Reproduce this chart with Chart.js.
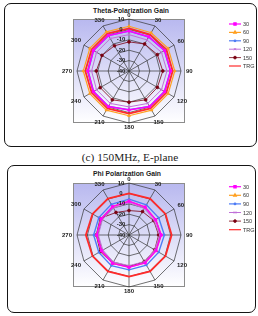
<!DOCTYPE html>
<html>
<head>
<meta charset="utf-8">
<script src="https://cdn.jsdelivr.net/npm/chart.js@4.4.1/dist/chart.umd.min.js"></script>
<style>
  body { margin: 0; width: 258px; height: 316px; position: relative; background: #fff; overflow: hidden;
         font-family: "Liberation Sans", Arial, sans-serif; }
  .box { position: absolute; box-sizing: border-box; border: 1.4px solid #151515; border-radius: 7px; }
  .ttl { position: absolute; font-weight: bold; font-size: 6.8px; color: #222; white-space: nowrap; transform: translate(-50%, -50%); }
  .cap { position: absolute; left: 130px; top: 157px; transform: translate(-50%, -50%); white-space: nowrap;
         font-family: "Liberation Serif", "DejaVu Serif", serif; font-size: 11.3px; color: #222; }
  canvas { position: absolute; left: 0; }
  .leg { position: absolute; font-size: 5.5px; color: #333; transform: translateY(-50%); white-space: nowrap; }
</style>
</head>
<body>
<div class="box" style="left:4px;top:3px;width:253px;height:144px"></div>
<div class="box" style="left:7px;top:165px;width:249px;height:148px"></div>
<div class="ttl" style="left:131px;top:10px">Theta-Polarization Gain</div>
<div class="ttl" style="left:127px;top:173px">Phi Polarization Gain</div>
<div class="cap">(c) 150MHz, E-plane</div>
<canvas id="theta" width="258" height="150" style="top:0"></canvas>
<canvas id="phi" width="258" height="150" style="top:166px"></canvas>
<div id="legends"></div>

<script>
// ângulos (graus) e escala radial
const angulos = ["0", "30", "60", "90", "120", "150", "180", "210", "240", "270", "300", "330"];
const ticksRadial = [10, 0, -10, -20, -30, -40];
const series = ["30", "60", "90", "120", "150", "TRG"];

// Theta-Polarization Gain
const theta30  = [-1.5, -2, -0.5, 0, -0.5, -0.5, -2.5, -0.5, -0.5, -0.5, -0.5, -0.5];
const theta60  = [3, 2.5, 3.5, 4, 3.5, 3.5, 3, 3.5, 3.5, 4, 3.5, 3.5];
const theta90  = [-1.7, -2.2, -0.7, -0.2, -0.7, -0.7, -2.7, -0.7, -0.7, -0.7, -0.7, -0.7];
const theta120 = [-5, -5.5, -4, -3.5, -4, -4, -5.5, -4, -4, -4, -4, -4];
const theta150 = [-12, -10, -8.5, -7.5, -8.5, -8, -10, -8, -8, -8.5, -10, -12];
const thetaTRG = [1, 0.5, 1.5, 2, 1.5, 1.5, 1, 1.5, 1.5, 2, 1.5, 1.5];

// Phi Polarization Gain
const phi30  = [-7.5, -9, -10.5, -9, -10, -9, -9, -8.5, -9.5, -9, -9, -8.5];
const phi60  = [-7.5, -9, -10.5, -9, -10, -9, -9, -8.5, -9.5, -9, -9, -8.5];
const phi90  = [-5.5, -6.5, -7, -6, -7, -6.5, -6.5, -6, -6.5, -6, -6.5, -6];
const phi120 = [-9, -10.5, -12, -10.5, -11.5, -10.5, -10.5, -10, -11, -10.5, -10.5, -10];
const phi150 = [-16.5, -14, -12.5, -11.5, -11.5, -10.5, -9.5, -8.5, -8, -8.5, -8, -15];
const phiTRG = [0, 0.5, 0.5, 1, 0.5, 0.5, 0, 0.5, 0.5, 1.5, 0.5, 0.5];

const estilos = [
  { cor: "#ff00ff", largura: 1.5, ponto: "rect", raio: 1.6 },
  { cor: "#ffa020", largura: 1.2, ponto: "triangle", raio: 1.5 },
  { cor: "#4d7cf5", largura: 1.4, ponto: "circle", raio: 0.8 },
  { cor: "#c070d8", largura: 1, ponto: "crossRot", raio: 1.5 },
  { cor: "#7a0010", largura: 0.8, ponto: "circle", raio: 1.4 },
  { cor: "#ff2a2a", largura: 1.8, ponto: false, raio: 0 }
];

function montarDatasets(dados) {
  return dados.map((d, i) => ({
    label: series[i],
    data: d,
    borderColor: estilos[i].cor,
    backgroundColor: estilos[i].cor,
    borderWidth: estilos[i].largura,
    pointStyle: estilos[i].ponto,
    pointRadius: estilos[i].raio,
    pointBorderWidth: 0.8,
    fill: false
  }));
}

// fundo do quadro, rótulos e legenda
const decoracao = {
  id: "decoracao",
  beforeDraw(chart) {
    const { ctx, chartArea: a } = chart;
    const g = ctx.createLinearGradient(0, a.top, 0, a.bottom);
    g.addColorStop(0, "#b8b8ef");
    g.addColorStop(1, "#ffffff");
    ctx.save();
    ctx.fillStyle = g;
    ctx.fillRect(a.left, a.top, a.right - a.left, a.bottom - a.top);
    ctx.strokeStyle = "#8c8c8c";
    ctx.lineWidth = 1;
    ctx.strokeRect(a.left + 0.5, a.top + 0.5, a.right - a.left - 1, a.bottom - a.top - 1);
    ctx.restore();
  },
  afterDatasetsDraw(chart, args, opts) {
    const { ctx } = chart;
    const r = chart.scales.r;
    ctx.save();
    ctx.fillStyle = "#222";
    ctx.font = 'bold 6px "Liberation Sans", Arial, sans-serif';
    ctx.textAlign = "center";
    ctx.textBaseline = "middle";
    angulos.forEach((lab, i) => {
      const w = ctx.measureText(lab).width;
      const ang = r.getIndexAngle(i);
      const d = r.drawingArea + 4 + (w / 2 + 1) * Math.abs(Math.sin(ang));
      const p = r.getPointPosition(i, d);
      ctx.fillText(lab, p.x, p.y);
    });
    ticksRadial.forEach((v) => {
      const y = r.yCenter - r.getDistanceFromCenterForValue(v);
      ctx.fillText(String(v), r.xCenter - 8, y);
    });
    // amostras da legenda
    series.forEach((s, i) => {
      const y = opts.legY + i * opts.legStep;
      const e = estilos[i];
      ctx.strokeStyle = e.cor;
      ctx.fillStyle = e.cor;
      ctx.lineWidth = Math.min(e.largura, 1.2);
      ctx.beginPath();
      ctx.moveTo(229, y);
      ctx.lineTo(241, y);
      ctx.stroke();
      if (e.ponto && Chart.helpers && Chart.helpers.drawPoint) {
        Chart.helpers.drawPoint(ctx, { pointStyle: e.ponto, radius: e.raio, rotation: 0, borderWidth: 0.8 }, 235, y);
      }
    });
    ctx.restore();
  }
};

function criarGrafico(id, dados, padTop, padBottom, legY, legStep, legTopPx) {
  new Chart(document.getElementById(id), {
    type: "radar",
    data: { labels: angulos, datasets: montarDatasets(dados) },
    options: {
      responsive: false,
      animation: false,
      layout: { padding: { left: 73, right: 73, top: padTop, bottom: padBottom } },
      plugins: {
        legend: { display: false },
        tooltip: { enabled: false },
        decoracao: { legY: legY, legStep: legStep }
      },
      scales: {
        r: {
          min: -40,
          max: 10,
          ticks: { stepSize: 10, display: false },
          pointLabels: { display: false },
          grid: { color: "#333", lineWidth: 0.7 },
          angleLines: { color: "#333", lineWidth: 0.7 }
        }
      }
    },
    plugins: [decoracao]
  });
  // textos da legenda
  const box = document.getElementById("legends");
  series.forEach((s, i) => {
    const el = document.createElement("div");
    el.className = "leg";
    el.style.left = "243px";
    el.style.top = (legTopPx + legY + i * legStep) + "px";
    el.textContent = s;
    box.appendChild(el);
  });
}

criarGrafico("theta", [theta30, theta60, theta90, theta120, theta150, thetaTRG], 19, 27, 24, 8.4, 0);
criarGrafico("phi", [phi30, phi60, phi90, phi120, phi150, phiTRG], 17, 29, 20.7, 8.6, 166);
</script>
</body>
</html>
